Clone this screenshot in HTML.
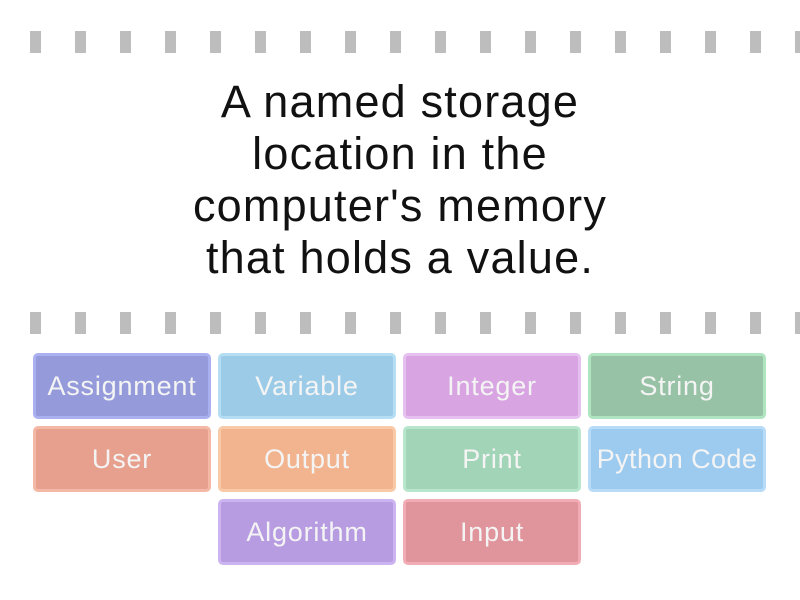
<!DOCTYPE html>
<html><head><meta charset="utf-8"><style>
body{margin:0;width:800px;height:600px;background:#fff;position:relative;overflow:hidden;font-family:"Liberation Sans","DejaVu Sans",sans-serif}
.d{position:absolute;width:11px;height:22px;background:#bdbdbd}
.t{position:absolute;left:0;width:800px;top:76px;text-align:center;font-size:45px;line-height:52px;color:#111;letter-spacing:1.2px}
.b{position:absolute;width:178px;height:66px;border-radius:5px;box-sizing:border-box;border:3px solid rgba(255,255,255,.35);color:#f4f4f4;font-size:27px;line-height:60px;text-align:center;white-space:nowrap;letter-spacing:.8px}
</style></head><body>
<div id="dashes"></div>
<div class="t">A named storage<br>location in the<br>computer's memory<br>that holds a value.</div>
<div class="b" style="left:33px;top:353px;background:#959bda;border-color:#aab0f0">Assignment</div>
<div class="b" style="left:218px;top:353px;background:#9ccbe8;border-color:#b5def5">Variable</div>
<div class="b" style="left:403px;top:353px;background:#d8a4e2;border-color:#e6c0f0">Integer</div>
<div class="b" style="left:588px;top:353px;background:#98c2a6;border-color:#aee4c0">String</div>
<div class="b" style="left:33px;top:426px;background:#e8a08e;border-color:#f4b8a6">User</div>
<div class="b" style="left:218px;top:426px;background:#f2b48e;border-color:#f8caa8">Output</div>
<div class="b" style="left:403px;top:426px;background:#a2d4b8;border-color:#b8e6cc">Print</div>
<div class="b" style="left:588px;top:426px;background:#9dcaef;border-color:#b8dcf8;letter-spacing:.4px">Python Code</div>
<div class="b" style="left:218px;top:499px;background:#b89ce2;border-color:#ccb4f0">Algorithm</div>
<div class="b" style="left:403px;top:499px;background:#e0959c;border-color:#f0aeb4">Input</div>
<script>
var h='';for(var i=0;i<18;i++){var x=30+i*45;h+='<div class="d" style="left:'+x+'px;top:31px"></div><div class="d" style="left:'+x+'px;top:312px"></div>';}
document.getElementById('dashes').innerHTML=h;
</script>
</body></html>
